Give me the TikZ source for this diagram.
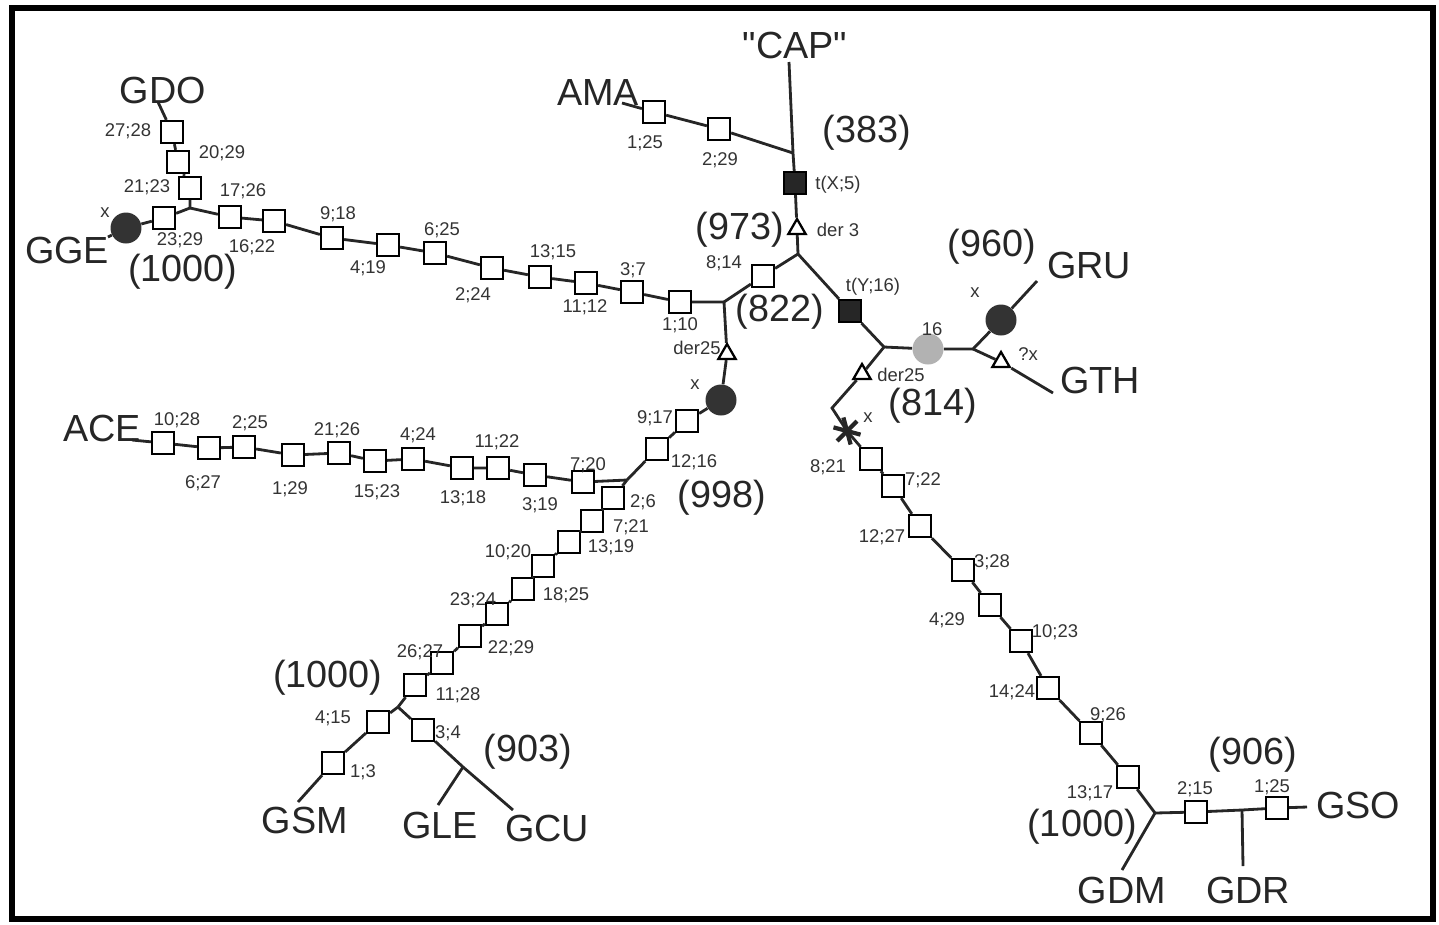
\documentclass[tikz,border=0pt]{standalone}
\usepackage{fontspec}
\setmainfont{Liberation Sans}
\usetikzlibrary{positioning, shapes.geometric}

\tikzset{
  sq/.style={draw, fill=white, line width=1.3pt, minimum size=0.44cm, inner sep=0pt},
  fsq/.style={sq, fill=black!85},
  dot/.style={circle, fill=black!80, minimum size=0.62cm, inner sep=0pt},
  gdot/.style={circle, fill=black!30, minimum size=0.62cm, inner sep=0pt},
  tri/.style={regular polygon, regular polygon sides=3, draw, fill=white,
    line width=1.3pt, minimum size=0.4cm, inner sep=0pt},
  br/.style={line width=1.6pt, black!85},
  sm/.style={font=\fontsize{10.5}{11}\selectfont, inner sep=0pt, black!80},
  big/.style={font=\fontsize{21.5}{22}\selectfont, inner sep=0pt, black!85},
}

\begin{document}
\begin{tikzpicture}[x=0.02cm, y=-0.02cm]
\useasboundingbox (0,0) rectangle (1439,924);
\draw[line width=3.2pt] (12,8) rectangle (1433,919);

% ends and branch points
\coordinate (capend) at (789,62);
\coordinate (j383) at (793,153);
\coordinate (j973) at (798,254);
\coordinate (j822) at (724,302);
\coordinate (j814) at (884,347);
\coordinate (j960) at (973,349);
\coordinate (jgge) at (190,208);
\coordinate (j998) at (627,480);
\coordinate (j1000) at (398,707);
\coordinate (j903) at (463,767);
\coordinate (jgdm) at (1155,813);
\coordinate (jgdr) at (1242,810);
\coordinate (bend) at (832,408);
\coordinate (ast) at (847,431);
\coordinate (amaend) at (622,103);
\coordinate (gdoend) at (158,102);
\coordinate (ggeend) at (108,237);
\coordinate (aceend) at (132,440);
\coordinate (gsmend) at (298,802);
\coordinate (gleend) at (438,805);
\coordinate (gcuend) at (513,810);
\coordinate (gruend) at (1037,281);
\coordinate (gthend) at (1053,393);
\coordinate (gdmend) at (1122,870);
\coordinate (gdrend) at (1243,866);
\coordinate (gsoend) at (1307,807);

% markers on the top part
\node[sq] (s125a) at (654,112) {};
\node[sq] (s229a) at (719,129) {};
\node[fsq] (tx5) at (795,183) {};
\node[tri] (d3) at (797,229) {};
\node[sq] (s814) at (763,276) {};
\node[fsq] (ty16) at (850,311) {};
\node[gdot] (g16) at (928,349) {};
\node[dot] (gru) at (1001,320) {};
\node[tri] (qx) at (1001,362) {};

% upper left chain
\node[sq] (s110) at (680,302) {};
\node[sq] (s37) at (632,292) {};
\node[sq] (s1112) at (586,283) {};
\node[sq] (s1315) at (540,277) {};
\node[sq] (s224) at (492,268) {};
\node[sq] (s625) at (435,253) {};
\node[sq] (s419) at (388,245) {};
\node[sq] (s918) at (332,238) {};
\node[sq] (s1622) at (274,221) {};
\node[sq] (s1726) at (230,217) {};
\node[sq] (s2123) at (190,188) {};
\node[sq] (s2029) at (178,162) {};
\node[sq] (s2728) at (172,132) {};
\node[sq] (s2329) at (164,218) {};
\node[dot] (gge) at (126,228) {};

% middle chain
\node[tri] (d25a) at (727,354) {};
\node[dot] (x998) at (721,400) {};
\node[sq] (s917) at (687,421) {};
\node[sq] (s1216) at (657,449) {};

% ACE chain
\node[sq] (s720) at (583,482) {};
\node[sq] (s319) at (535,475) {};
\node[sq] (s1122) at (498,468) {};
\node[sq] (s1318) at (462,468) {};
\node[sq] (s424) at (413,459) {};
\node[sq] (s1523) at (375,461) {};
\node[sq] (s2126) at (339,453) {};
\node[sq] (s129) at (293,455) {};
\node[sq] (s225) at (244,447) {};
\node[sq] (s627) at (209,448) {};
\node[sq] (s1028) at (163,443) {};

% lower left chain
\node[sq] (s26) at (613,498) {};
\node[sq] (s721) at (592,521) {};
\node[sq] (s1319) at (569,542) {};
\node[sq] (s1020) at (543,566) {};
\node[sq] (s1825) at (523,589) {};
\node[sq] (s2324) at (497,614) {};
\node[sq] (s2229) at (470,636) {};
\node[sq] (s2627) at (442,663) {};
\node[sq] (s1128) at (415,685) {};
\node[sq] (s415) at (378,722) {};
\node[sq] (s13) at (333,763) {};
\node[sq] (s34) at (423,730) {};

% lower right chain
\node[tri] (d25b) at (862,374) {};
\node[sq] (s821) at (871,459) {};
\node[sq] (s722) at (893,486) {};
\node[sq] (s1227) at (920,526) {};
\node[sq] (s328) at (963,570) {};
\node[sq] (s429) at (990,605) {};
\node[sq] (s1023) at (1021,641) {};
\node[sq] (s1424) at (1048,688) {};
\node[sq] (s926) at (1091,733) {};
\node[sq] (s1317) at (1128,777) {};
\node[sq] (s215) at (1196,812) {};
\node[sq] (s125b) at (1277,808) {};

% branches
\draw[br] (capend) -- (j383) -- (tx5) -- (d3) -- (j973);
\draw[br] (amaend) -- (s125a) -- (s229a) -- (j383);
\draw[br] (j973) -- (s814) -- (j822);
\draw[br] (j973) -- (ty16) -- (j814) -- (g16) -- (j960);
\draw[br] (j960) -- (gru) -- (gruend);
\draw[br] (j960) -- (qx) -- (gthend);
\draw[br] (j822) -- (s110) -- (s37) -- (s1112) -- (s1315) -- (s224) -- (s625)
  -- (s419) -- (s918) -- (s1622) -- (s1726) -- (jgge);
\draw[br] (jgge) -- (s2123) -- (s2029) -- (s2728) -- (gdoend);
\draw[br] (jgge) -- (s2329) -- (gge) -- (ggeend);
\draw[br] (j822) -- (d25a) -- (x998) -- (s917) -- (s1216) -- (j998);
\draw[br] (j998) -- (s720) -- (s319) -- (s1122) -- (s1318) -- (s424) -- (s1523)
  -- (s2126) -- (s129) -- (s225) -- (s627) -- (s1028) -- (aceend);
\draw[br] (j998) -- (s26) -- (s721) -- (s1319) -- (s1020) -- (s1825) -- (s2324)
  -- (s2229) -- (s2627) -- (s1128) -- (j1000);
\draw[br] (j1000) -- (s415) -- (s13) -- (gsmend);
\draw[br] (j1000) -- (s34) -- (j903) -- (gcuend);
\draw[br] (j903) -- (gleend);
\draw[br] (j814) -- (d25b) -- (bend) -- (ast);
\draw[br] (ast) -- (s821) -- (s722) -- (s1227) -- (s328) -- (s429) -- (s1023)
  -- (s1424) -- (s926) -- (s1317) -- (jgdm);
\draw[br] (jgdm) -- (gdmend);
\draw[br] (jgdm) -- (s215) -- (jgdr) -- (s125b) -- (gsoend);
\draw[br] (jgdr) -- (gdrend);

% the asterisk
\foreach \a in {15,75,135}
  \draw[line width=2.4pt, black!85] (ast) ++(\a:14) -- ++(\a+180:28);

% taxon names
\node[big] (cap) at (795,45) {\textquotedbl CAP\textquotedbl};
\node[big] (ama) at (598,92) {AMA};
\node[big] (gdo) at (163,90) {GDO};
\node[big] (ggel) at (67,250) {GGE};
\node[big] (ace) at (102,428) {ACE};
\node[big] (gru2) at (1089,265) {GRU};
\node[big] (gth) at (1100,380) {GTH};
\node[big] (gsm) at (305,820) {GSM};
\node[big] (gle) at (440,825) {GLE};
\node[big] (gcu) at (547,828) {GCU};
\node[big] (gdm) at (1122,890) {GDM};
\node[big] (gdr) at (1248,890) {GDR};
\node[big] (gso) at (1358,805) {GSO};

% support values
\node[big] (n383) at (867,133) {(383)};
\node[big] (n973) at (740,230) {(973)};
\node[big] (n822) at (780,312) {(822)};
\node[big] (n960) at (992,247) {(960)};
\node[big] (n814) at (933,406) {(814)};
\node[big] (n998) at (722,498) {(998)};
\node[big] (n1000a) at (183,272) {(1000)};
\node[big] (n1000b) at (328,678) {(1000)};
\node[big] (n903) at (528,752) {(903)};
\node[big] (n906) at (1253,755) {(906)};
\node[big] (n1000c) at (1082,827) {(1000)};

% step labels
\node[sm] (l125a) at (645,143) {1;25};
\node[sm] (l229a) at (720,160) {2;29};
\node[sm] (ltx5) at (838,185) {t(X;5)};
\node[sm] (ld3) at (838,230) {der 3};
\node[sm] (l814) at (724,263) {8;14};
\node[sm] (lty16) at (873,287) {t(Y;16)};
\node[sm] (l16) at (932,329) {16};
\node[sm] (ld25b) at (901,375) {der25};
\node[sm] (lxast) at (868,418) {x};
\node[sm] (lxgru) at (975,293) {x};
\node[sm] (lqx) at (1028,354) {?x};
\node[sm] (l110) at (680,325) {1;10};
\node[sm] (l37) at (633,270) {3;7};
\node[sm] (l1112) at (585,307) {11;12};
\node[sm] (l1315) at (553,252) {13;15};
\node[sm] (l224) at (473,295) {2;24};
\node[sm] (l625) at (442,230) {6;25};
\node[sm] (l419) at (368,268) {4;19};
\node[sm] (l918) at (338,214) {9;18};
\node[sm] (l1622) at (252,247) {16;22};
\node[sm] (l1726) at (243,191) {17;26};
\node[sm] (l2329) at (180,240) {23;29};
\node[sm] (l2123) at (147,187) {21;23};
\node[sm] (l2029) at (222,153) {20;29};
\node[sm] (l2728) at (128,131) {27;28};
\node[sm] (lxgge) at (105,213) {x};
\node[sm] (ld25a) at (697,348) {der25};
\node[sm] (lx998) at (695,385) {x};
\node[sm] (l917) at (655,418) {9;17};
\node[sm] (l1216) at (694,462) {12;16};
\node[sm] (l26) at (643,502) {2;6};
\node[sm] (l721) at (631,527) {7;21};
\node[sm] (l1319) at (611,547) {13;19};
\node[sm] (l1020) at (508,552) {10;20};
\node[sm] (l1825) at (566,595) {18;25};
\node[sm] (l2324) at (473,600) {23;24};
\node[sm] (l2229) at (511,648) {22;29};
\node[sm] (l2627) at (420,652) {26;27};
\node[sm] (l1128) at (458,695) {11;28};
\node[sm] (l415) at (333,718) {4;15};
\node[sm] (l13) at (363,772) {1;3};
\node[sm] (l34) at (448,733) {3;4};
\node[sm] (l1028) at (177,420) {10;28};
\node[sm] (l627) at (203,483) {6;27};
\node[sm] (l225) at (250,423) {2;25};
\node[sm] (l129) at (290,489) {1;29};
\node[sm] (l2126) at (337,430) {21;26};
\node[sm] (l1523) at (377,492) {15;23};
\node[sm] (l424) at (418,435) {4;24};
\node[sm] (l1318) at (463,498) {13;18};
\node[sm] (l1122) at (497,442) {11;22};
\node[sm] (l319) at (540,505) {3;19};
\node[sm] (l720) at (588,465) {7;20};
\node[sm] (l821) at (828,467) {8;21};
\node[sm] (l722) at (923,480) {7;22};
\node[sm] (l1227) at (882,537) {12;27};
\node[sm] (l328) at (992,562) {3;28};
\node[sm] (l429) at (947,620) {4;29};
\node[sm] (l1023) at (1055,632) {10;23};
\node[sm] (l1424) at (1012,692) {14;24};
\node[sm] (l926) at (1108,715) {9;26};
\node[sm] (l1317) at (1090,793) {13;17};
\node[sm] (l215) at (1195,789) {2;15};
\node[sm] (l125b) at (1272,787) {1;25};
\end{tikzpicture}
\end{document}
